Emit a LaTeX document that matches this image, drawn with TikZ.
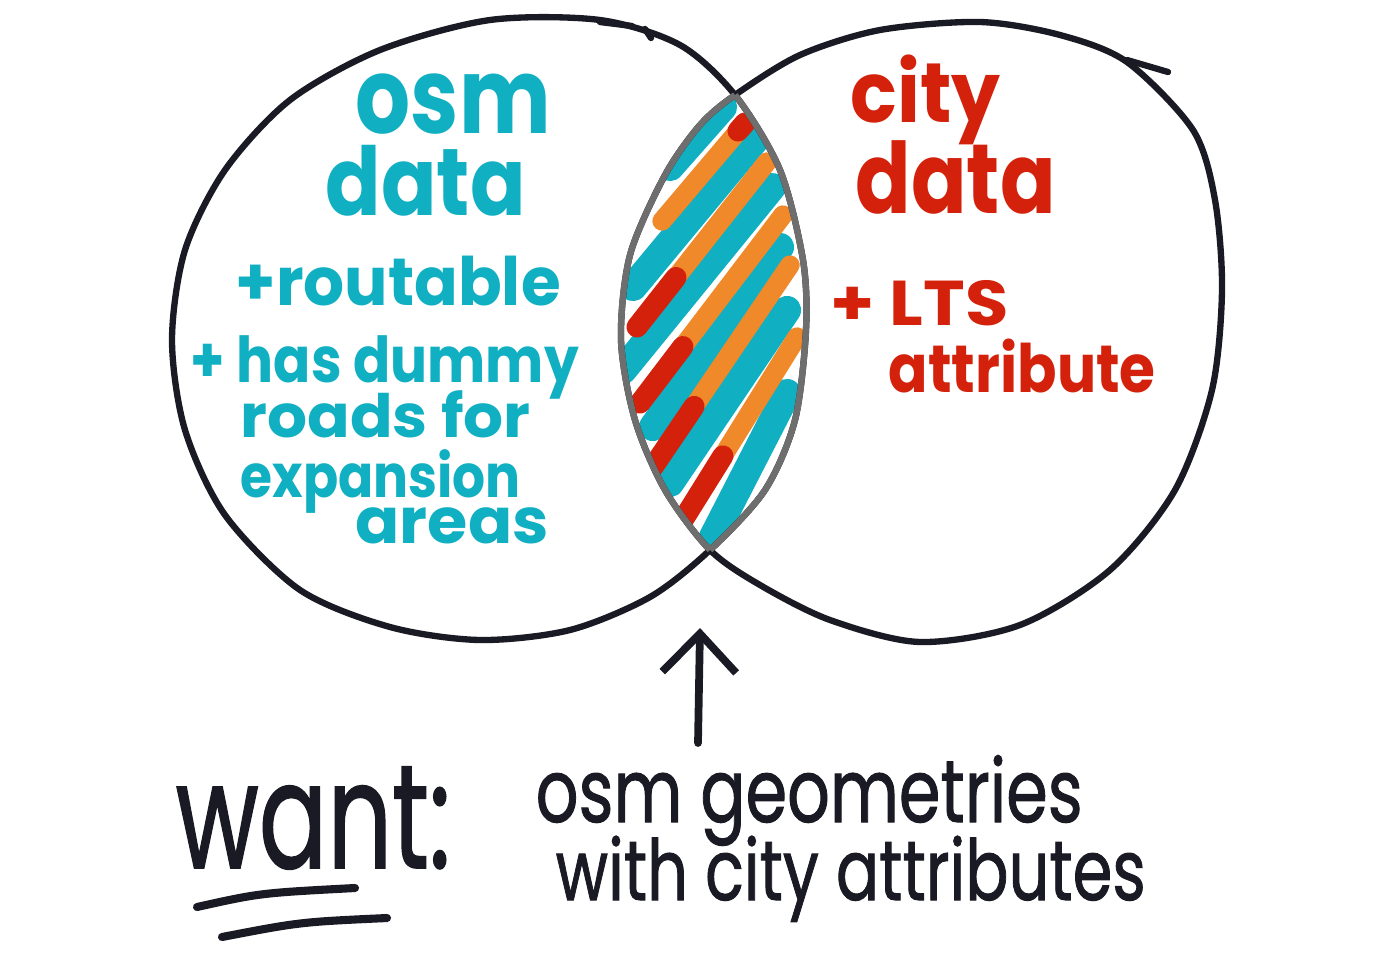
\documentclass[tikz,border=0pt]{standalone}
\usepackage{fontspec}
\setmainfont{Poppins}
\newfontfamily\inkfont{Poppins}[FakeBold=1.2]
\usepackage{graphicx}
\usetikzlibrary{arrows.meta,calc}
\definecolor{osmteal}{HTML}{10AFC2}
\definecolor{cityred}{HTML}{D4210B}
\definecolor{hatchorange}{HTML}{F0892A}
\definecolor{inkblack}{HTML}{1A1A24}
\definecolor{lensgrey}{HTML}{6E6E6E}
\newdimen\pxunit \pxunit=0.01cm
\newcommand{\fitw}[2]{\resizebox{#1\pxunit}{\height}{#2}}
\newcommand{\sz}[1]{\fontsize{#1}{#1}\selectfont}
%% the two hand drawn loops
\def\osmloop{plot[smooth cycle] coordinates {(600,20) (680,45) (735,95) (780,170)
  (803,260) (806,330) (795,420) (765,490) (710,550) (650,597) (570,630) (480,640)
  (390,627) (300,590) (225,515) (185,430) (172,340) (185,250) (225,170) (290,100)
  (380,50) (490,20)}}
\def\cityloop{plot[smooth cycle] coordinates {(735,95) (800,55) (880,30) (980,22)
  (1060,35) (1127,62) (1193,130) (1215,200) (1222,290) (1212,390) (1175,490)
  (1110,570) (1020,625) (920,642) (830,620) (760,585) (710,550) (665,490) (635,420)
  (621,340) (630,255) (665,175) (700,125)}}
\begin{document}
\begin{tikzpicture}
[x=0.01cm,y=-0.01cm,
  loopline/.style={draw=inkblack,line width=1.8pt,line cap=round,line join=round},%
  lensline/.style={draw=lensgrey,line width=1.8pt},%
  tealstroke/.style={draw=osmteal,line width=8pt,line cap=round},%
  orangestroke/.style={draw=hatchorange,line width=5.5pt,line cap=round},%
  redstroke/.style={draw=cityred,line width=6pt,line cap=round},%
  osmlabel/.style={text=osmteal,anchor=base west,inner sep=0pt,font=\bfseries},%
  citylabel/.style={text=cityred,anchor=base west,inner sep=0pt,font=\bfseries},%
  inklabel/.style={text=inkblack,anchor=base west,inner sep=0pt,font=\inkfont},%
  pointer/.style={-{Straight Barb[length=11pt,width=21pt]},line width=2.2pt,
    draw=inkblack,line cap=round,line join=round},%
  underline/.style={draw=inkblack,line width=2.3pt,line cap=round}]
\useasboundingbox (0,0) rectangle (1400,960);
%% hatching of the overlap
\begin{scope}
  \clip \osmloop;
  \clip \cityloop;
  \foreach \ax/\ay/\bx/\by in {670/167/723/107, 633/287/755/140, 623/370/772/187,
    653/427/780/247, 670/483/787/310, 713/537/787/393}
  {
    \draw[tealstroke] (\ax,\ay) -- (\bx,\by);
  }
  \foreach \ax/\ay/\bx/\by/\part in {637/327/767/162/0.3,
    640/403/783/215/0.3, 653/467/790/265/0.3, 683/520/797/337/0.35}
  {
    \draw[orangestroke] (\ax,\ay) -- (\bx,\by);
    \draw[redstroke] (\ax,\ay) -- ($(\ax,\ay)!\part!(\bx,\by)$);
  }
  \draw[orangestroke] (662,221) -- (745,123);
  \draw[redstroke] (738,131) -- (745,123);
\end{scope}
%% the two sets
\draw[loopline] \osmloop;
\draw[loopline] \cityloop;
\begin{scope}
  \clip \cityloop;
  \draw[lensline] \osmloop;
\end{scope}
\begin{scope}
  \clip \osmloop;
  \draw[lensline] \cityloop;
\end{scope}
%% pen overlaps
\draw[loopline] (600,22) -- (632,26);
\draw[loopline] (645,29) -- (651,38);
\draw[loopline] (1127,60) -- (1168,72);
%% osm side
\node[osmlabel] (osmword) at (355,133) {\sz{30}\fitw{195}{osm}};
\node[osmlabel] (osmdata) at (325,215) {\sz{27}\fitw{200}{data}};
\node[osmlabel] (routable) at (235,305) {\sz{19}\fitw{325}{+routable}};
\node[osmlabel] (dummy) at (190,382) {\sz{18}\fitw{388}{+ has dummy}};
\node[osmlabel] (roadsfor) at (240,437) {\sz{17}\fitw{290}{roads for}};
\node[osmlabel] (expansion) at (240,497) {\sz{17}\fitw{280}{expansion}};
\node[osmlabel] (areas) at (355,543) {\sz{18}\fitw{193}{areas}};
%% city side
\node[citylabel] (cityword) at (850,122) {\sz{24}\fitw{150}{city}};
\node[citylabel] (citydata) at (855,213) {\sz{28}\fitw{200}{data}};
\node[citylabel] (lts) at (830,325) {\sz{18}\fitw{178}{+ LTS}};
\node[citylabel] (attribute) at (888,392) {\sz{19}\fitw{267}{attribute}};
%% what we want
\node[inklabel] (want) at (175,868) {\sz{42}\fitw{275}{want:}};
\node[inklabel] (geomline) at (535,822) {\sz{25}\fitw{547}{osm geometries}};
\node[inklabel] (cityline) at (555,900) {\sz{24}\fitw{590}{with city attributes}};
\draw[underline] (197,907) .. controls (260,893) .. (355,888);
\draw[underline] (222,937) .. controls (300,922) .. (387,918);
\coordinate (arrowfoot) at (698,743);
\coordinate (arrowtip) at (700,628);
\draw[pointer] (arrowfoot) -- (arrowtip);
\end{tikzpicture}
\end{document}
